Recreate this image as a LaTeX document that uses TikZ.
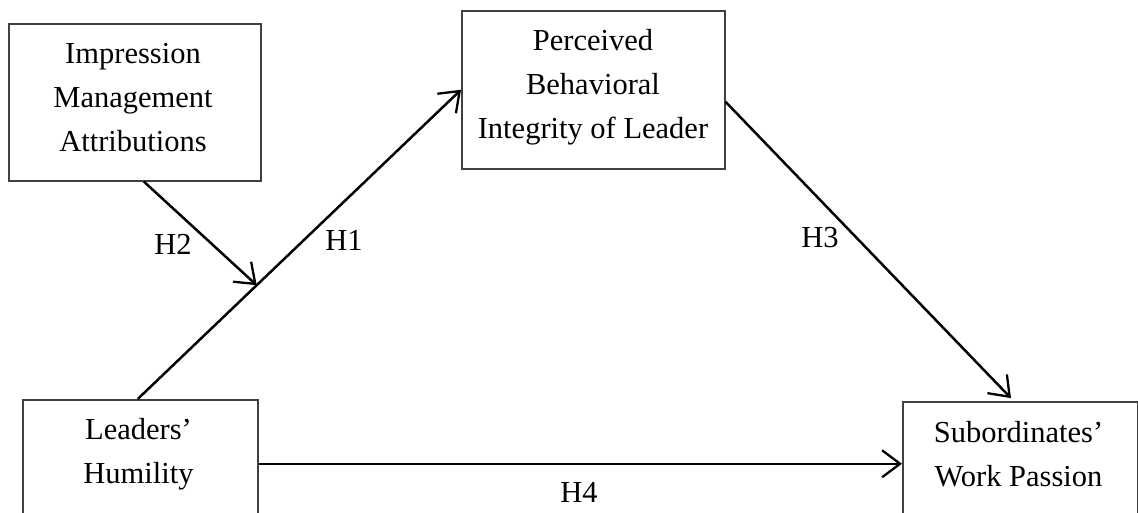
\documentclass[tikz,border=0pt]{standalone}
\usepackage{fontspec}
\setmainfont{Liberation Serif}
\usetikzlibrary{arrows.meta,calc}
\begin{document}
\begin{tikzpicture}[x=1pt,y=-1pt,
  box/.style={draw=black!75,line width=1.5pt,inner sep=0pt,anchor=north west},
  txt/.style={font=\fontsize{30.5}{44}\selectfont,align=center,inner sep=0pt},
  hlab/.style={font=\fontsize{30.5}{36}\selectfont,inner sep=0pt},
  conn/.style={line width=2.5pt,-{Straight Barb[length=18pt,width=27pt,line width=2.3pt]}}]
\useasboundingbox (0,0) rectangle (1138,512);
\clip (0,0) rectangle (1138,512);
% boxes
\node[box,minimum width=252pt,minimum height=157pt] (ima) at (8,23) {};
\node[box,minimum width=263pt,minimum height=158pt] (pbi) at (461,10) {};
\node[box,minimum width=235pt,minimum height=128pt] (lh) at (22,399) {};
\node[box,minimum width=235pt,minimum height=124pt] (swp) at (902,401) {};
% texts
\node[txt] (imat) at (133,97.5) {Impression\\Management\\Attributions};
\node[txt] (pbit) at (593,87) {Perceived\\Behavioral\\Integrity of Leader};
\node[txt] (lht) at (138.5,454) {Leaders’\\Humility};
\node[txt] (swpt) at (1018.5,453.7) {Subordinates’\\Work Passion};
% connectors
\draw[conn] ([xshift=-2.5pt]lh.north) -- (pbi.west);
\coordinate (m) at ($([xshift=-2.5pt]lh.north)!0.368!(pbi.west)$);
\draw[conn] ([xshift=9pt]ima.south) -- (m);
\draw[conn,shorten >=4pt] ([yshift=-12pt]pbi.east) -- ([xshift=-6.5pt]swp.north);
\draw[conn] (lh.east) -- (swp.west);
% labels
\node[hlab] (h1) at (344,240.5) {H1};
\node[hlab] (h2) at (173,244.5) {H2};
\node[hlab] (h3) at (820,237.5) {H3};
\node[hlab] (h4) at (579,492.5) {H4};
\end{tikzpicture}
\end{document}
